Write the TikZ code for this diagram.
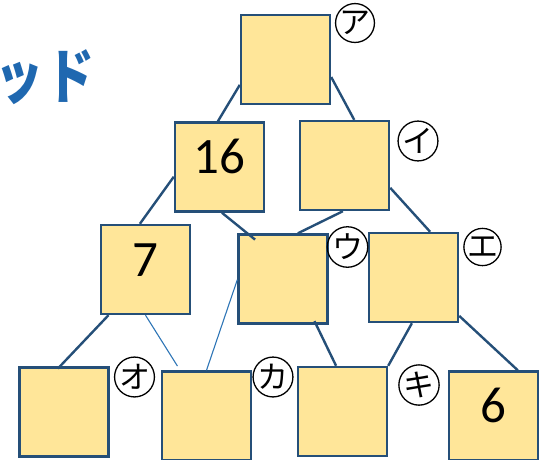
\documentclass[tikz,border=0pt]{standalone}
\usepackage{fontspec}
\setmainfont{Carlito}
\newfontfamily\jpfont{Noto Sans CJK JP}
\usepackage{graphicx}
\usepackage{tikz}
\definecolor{boxline}{RGB}{37,79,120}
\definecolor{boxfill}{RGB}{255,230,153}
\definecolor{thinline}{RGB}{46,117,182}
\definecolor{titleblue}{RGB}{31,104,176}
\tikzset{
  cell/.style={
    rectangle, draw=boxline, line width=2.4pt, fill=boxfill,
    minimum width=89pt, minimum height=89pt, inner sep=0pt,
    text height=36pt, text depth=23pt, font=\fontsize{51}{51}\selectfont
  },
  kana/.style={
    circle, draw=black, line width=1.3pt, minimum size=34pt,
    inner sep=0pt, font=\jpfont\fontsize{31}{31}\selectfont
  },
  link/.style={draw=boxline, line width=2.4pt},
  thin link/.style={draw=thinline, line width=1.1pt},
}
\begin{document}
\begin{tikzpicture}[x=1pt, y=-1pt]
  \clip (0,0) rectangle (549,459);
  \node[anchor=base east, inner sep=0pt, text=titleblue, font=\jpfont\bfseries\fontsize{60}{60}\selectfont] (title) at (95,98) {\scalebox{0.8}[1]{ッ\hspace{4pt}ド}};

  % boxes, row by row
  \node[cell] (A) at (285.5,59.5) {};
  \node[cell] (B) at (219.5,167) {16};
  \node[cell] (C) at (344.5,165.5) {};
  \node[cell] (D) at (145.5,269.5) {7};
  \node[cell] (E) at (283,279) {};
  \node[cell] (F) at (413.5,277.5) {};
  \node[cell] (G) at (64,412) {};
  \node[cell] (H) at (206.5,416) {};
  \node[cell] (I) at (342.5,411.5) {};
  \node[cell] (J) at (493.5,416) {6};

  % circled names
  \node[kana] (kA) at (355,23) {ア};
  \node[kana] (kC) at (418,141) {イ};
  \node[kana] (kE) at (347.5,247) {ウ};
  \node[kana] (kF) at (482.5,247) {エ};
  \node[kana] (kG) at (134.5,377) {オ};
  \node[kana] (kH) at (273,377) {カ};
  \node[kana] (kI) at (419,385) {キ};

  % links between boxes
  \draw[link] (A.209) -- (B.92);
  \draw[link] (A.339) -- (C.78);
  \draw[link] (B.192) -- (D.97);
  \draw[link, shorten >=-10pt] (B.273) -- (E.128);
  \draw[link] (C.268) -- (E.72);
  \draw[link] (C.334) -- (F.70);
  \draw[link, shorten >=-3pt] (D.231) -- (G.95);
  \draw[thin link, shorten >=5pt] (D.270) -- (H.120);
  \draw[thin link] (E.181) -- (H.90);
  \draw[link, shorten <=-4pt] (E.306) -- (I.98);
  \draw[link] (F.268) -- (I.north east);
  \draw[link] (F.320) -- (J.62);
\end{tikzpicture}
\end{document}
